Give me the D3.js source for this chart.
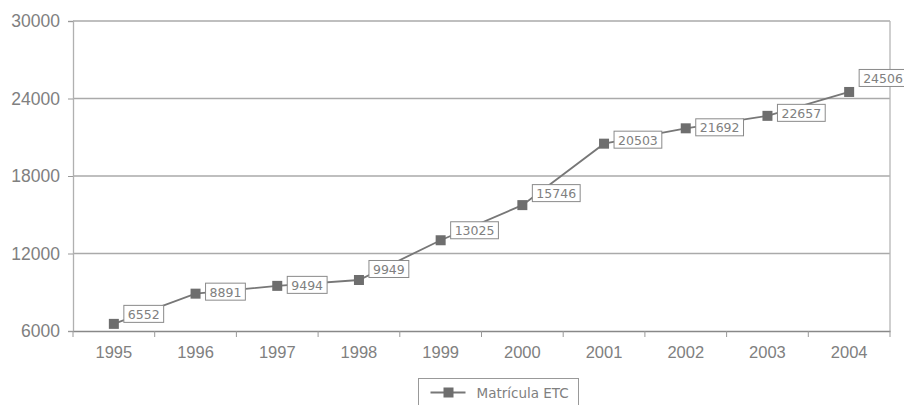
<!DOCTYPE html>
<html>
<head>
<meta charset="utf-8">
<script src="https://cdn.jsdelivr.net/npm/d3@7"></script>
<style>
  body { margin: 0; background: #fff; }
  svg { display: block; font-family: "DejaVu Sans", sans-serif; }
</style>
</head>
<body>
<div id="chart"></div>
<script>
// Chart data
const years = ['1995', '1996', '1997', '1998', '1999', '2000', '2001', '2002', '2003', '2004']
const matricula = [6552, 8891, 9494, 9949, 13025, 15746, 20503, 21692, 22657, 24506]
const yTicks = [6000, 12000, 18000, 24000, 30000]
const seriesName = 'Matrícula ETC'

// label nudges (vertical, px) as placed in the original
const labelDy = [-10, -2, -1, -11, -10, -12, -4, -1, -3, -14]

const width = 904
const height = 405
const margin = { top: 21, right: 14, bottom: 74, left: 73 }
const textColor = '#808080'

const svg = d3.select('#chart')
  .append('svg')
  .attr('width', width)
  .attr('height', height)

const x = d3.scaleBand()
  .domain(years)
  .range([margin.left, width - margin.right])

const y = d3.scaleLinear()
  .domain([6000, 30000])
  .range([height - margin.bottom, margin.top])

// gridlines
svg.append('g')
  .selectAll('line')
  .data(yTicks.filter(d => d > 6000))
  .enter()
  .append('line')
  .attr('x1', margin.left)
  .attr('x2', width - margin.right)
  .attr('y1', d => y(d))
  .attr('y2', d => y(d))
  .attr('stroke', '#aaa')
  .attr('stroke-width', 1.3)

// right border
svg.append('line')
  .attr('x1', width - margin.right)
  .attr('x2', width - margin.right)
  .attr('y1', margin.top)
  .attr('y2', height - margin.bottom)
  .attr('stroke', '#b5b5b5')
  .attr('stroke-width', 1.3)

// y axis
const yAxis = d3.axisLeft(y)
  .tickValues(yTicks)
  .tickSize(5)
  .tickPadding(8)
  .tickFormat(d3.format('d'))

const gy = svg.append('g')
  .attr('transform', `translate(${margin.left},0)`)
  .call(yAxis)
gy.select('.domain').attr('stroke', '#b0b0b0').attr('stroke-width', 1.3)
gy.selectAll('.tick line').attr('stroke', '#999')
gy.selectAll('text').attr('fill', textColor).attr('font-size', 17.5)

// x axis, ticks between categories
const xAxis = d3.axisBottom(x).tickSize(0).tickPadding(15)
const gx = svg.append('g')
  .attr('transform', `translate(0,${height - margin.bottom})`)
  .call(xAxis)
gx.select('.domain').attr('stroke', '#888').attr('stroke-width', 1.3)
gx.selectAll('text').attr('fill', textColor).attr('font-size', 16.5)

gx.selectAll('.sep')
  .data(years.concat(['end']))
  .enter()
  .append('line')
  .attr('class', 'sep')
  .attr('x1', (d, i) => margin.left + i * x.bandwidth())
  .attr('x2', (d, i) => margin.left + i * x.bandwidth())
  .attr('y1', 0)
  .attr('y2', 6)
  .attr('stroke', '#999')

// series line
const cx = (d, i) => x(years[i]) + x.bandwidth() / 2
const line = d3.line()
  .x(cx)
  .y(d => y(d))

svg.append('path')
  .datum(matricula)
  .attr('d', line)
  .attr('fill', 'none')
  .attr('stroke', '#777')
  .attr('stroke-width', 1.8)

// data labels
const labels = svg.append('g')
  .selectAll('g')
  .data(matricula)
  .enter()
  .append('g')
  .attr('transform', (d, i) => `translate(${cx(d, i) + 10},${y(d) + labelDy[i]})`)

labels.append('text')
  .text(d => d)
  .attr('x', 4)
  .attr('y', 5)
  .attr('font-size', 12.5)
  .attr('fill', textColor)

labels.each(function () {
  const g = d3.select(this)
  const bb = g.select('text').node().getBBox()
  g.insert('rect', 'text')
    .attr('x', 0)
    .attr('y', -8.5)
    .attr('width', bb.width + 8)
    .attr('height', 17)
    .attr('fill', '#fff')
    .attr('stroke', '#8a8a8a')
    .attr('stroke-width', 1)
})

// markers
svg.append('g')
  .selectAll('rect')
  .data(matricula)
  .enter()
  .append('rect')
  .attr('x', (d, i) => cx(d, i) - 5)
  .attr('y', d => y(d) - 5)
  .attr('width', 10)
  .attr('height', 10)
  .attr('fill', '#6e6e6e')

// legend
const legend = svg.append('g')
  .attr('transform', 'translate(418.5,378.5)')

legend.append('rect')
  .attr('width', 160)
  .attr('height', 30)
  .attr('fill', '#fff')
  .attr('stroke', '#999')

legend.append('line')
  .attr('x1', 12)
  .attr('x2', 47)
  .attr('y1', 14)
  .attr('y2', 14)
  .attr('stroke', '#777')
  .attr('stroke-width', 1.8)

legend.append('rect')
  .attr('x', 25)
  .attr('y', 9)
  .attr('width', 10)
  .attr('height', 10)
  .attr('fill', '#6e6e6e')

legend.append('text')
  .attr('x', 58)
  .attr('y', 19)
  .attr('font-size', 13.5)
  .attr('fill', textColor)
  .text(seriesName)
</script>
</body>
</html>
